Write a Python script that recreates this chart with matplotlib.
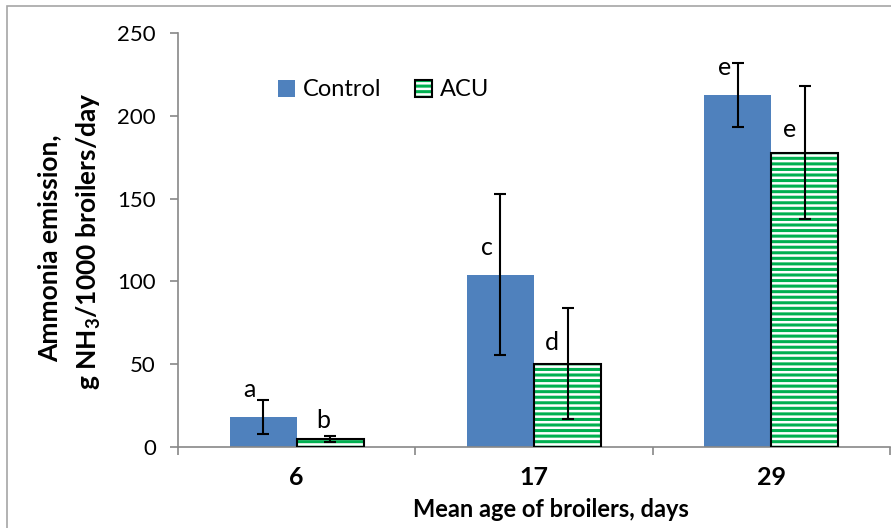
import matplotlib
matplotlib.use("Agg")
import matplotlib.pyplot as plt
from matplotlib.patches import Patch, Rectangle
from matplotlib.legend_handler import HandlerTuple
import numpy as np

categories = ["6", "17", "29"]
control = [18.2, 104.0, 212.6]
control_err = [10.3, 48.6, 19.2]
acu = [5.0, 50.3, 177.7]
acu_err = [1.9, 33.5, 40.0]
control_letters = ["a", "c", "e"]
acu_letters = ["b", "d", "e"]
# letter anchor positions (offset from category centre, y value of baseline)
control_letter_dx = [-0.201, -0.198, -0.195]
control_letter_y = [30.2, 115.9, 224.6]
acu_letter_dx = [0.111, 0.076, 0.079]
acu_letter_y = [11.5, 58.6, 187.2]

BLUE = "#4F81BD"
GREEN = "#00B050"
GREY = "#888888"
FONT = "Lato"

plt.rcParams["font.family"] = [FONT, "DejaVu Sans"]
plt.rcParams["mathtext.fontset"] = "custom"
plt.rcParams["mathtext.rm"] = FONT + ":bold"
plt.rcParams["mathtext.bf"] = FONT + ":bold"
plt.rcParams["hatch.linewidth"] = 2.2

fig = plt.figure(figsize=(8.91, 5.28), dpi=100)
ax = fig.add_axes([178/891, 1-447/528, 712/891, 414/528])

# figure frame
fig.patches.append(Rectangle((7/891, -0.1), 1.2, 1-6/528+0.1, transform=fig.transFigure,
                             fill=False, edgecolor="#A6A6A6", linewidth=1.2, clip_on=False))

x = np.arange(len(categories))
w = 0.283
ax.bar(x - w/2, control, w, color=BLUE, edgecolor="none", zorder=2)
ax.bar(x + w/2, acu, w, facecolor="white", edgecolor=GREEN, hatch="---", linewidth=0, zorder=2)
ax.bar(x + w/2, acu, w, fill=False, edgecolor="black", linewidth=1.5, zorder=3)
ax.errorbar(x - w/2, control, yerr=control_err, fmt="none", ecolor="black",
            elinewidth=1.5, capsize=4, capthick=1.5, zorder=4)
ax.errorbar(x + w/2, acu, yerr=acu_err, fmt="none", ecolor="black",
            elinewidth=1.5, capsize=4, capthick=1.5, zorder=4)

# letters
for i in range(len(categories)):
    ax.text(x[i] + control_letter_dx[i], control_letter_y[i], control_letters[i],
            fontsize=18, ha="center", va="baseline", zorder=5)
    ax.text(x[i] + acu_letter_dx[i], acu_letter_y[i], acu_letters[i],
            fontsize=18, ha="center", va="baseline", zorder=5)

ax.set_xlim(-0.5, 2.5)
ax.set_ylim(0, 250)
ax.set_yticks([0, 50, 100, 150, 200, 250])
ax.tick_params(axis="y", labelsize=16, length=6, width=1.2, color=GREY, pad=10)
ax.set_xticks([-0.5, 0.5, 1.5, 2.5])
ax.set_xticklabels([])
ax.tick_params(axis="x", which="major", length=6, width=1.2, color=GREY)
ax.set_xticks(x, minor=True)
ax.set_xticklabels(categories, minor=True, fontsize=18, fontweight="bold")
ax.tick_params(axis="x", which="minor", length=0, pad=14)

for s in ["top", "right"]:
    ax.spines[s].set_visible(False)
for s in ["left", "bottom"]:
    ax.spines[s].set_color(GREY)
    ax.spines[s].set_linewidth(1.2)

fig.text(551/891, 1-517/528, "Mean age of broilers, days", fontsize=17,
         fontweight="bold", ha="center", va="baseline")

fig.text(57/891, 1-248/528, "Ammonia emission,", rotation=90, fontsize=19,
         fontweight="bold", ha="center", va="baseline", rotation_mode="anchor")
fig.text(97/891, 1-241/528, r"g NH$_3$/1000 broilers/day", rotation=90, fontsize=19,
         fontweight="bold", ha="center", va="baseline", rotation_mode="anchor")

h1 = Patch(facecolor=BLUE, edgecolor="none")
h2a = Patch(facecolor="white", edgecolor=GREEN, hatch="---", linewidth=0)
h2b = Patch(fill=False, edgecolor="black", linewidth=1.5)
ax.legend([h1, (h2a, h2b)], ["Control", "ACU"],
          handler_map={tuple: HandlerTuple(ndivide=1, pad=0)},
          loc="center left", bbox_to_anchor=((278-178)/712, (447-90)/414),
          ncol=2, frameon=False, fontsize=17, handlelength=0.72, handleheight=0.72,
          handletextpad=0.34, columnspacing=1.4, borderaxespad=0, borderpad=0)

fig.savefig("out.png", dpi=100)
